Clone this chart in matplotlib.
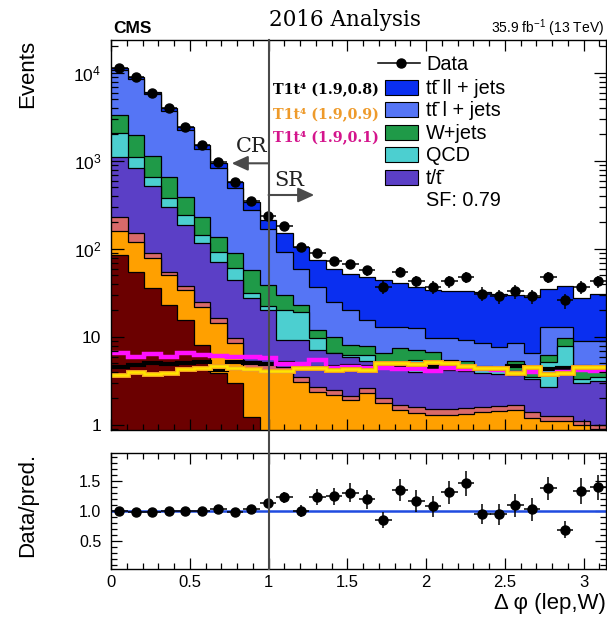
import numpy as np
import matplotlib
matplotlib.use("Agg")
import matplotlib.pyplot as plt
from matplotlib.lines import Line2D
from matplotlib.patches import Rectangle
from matplotlib.ticker import (FixedLocator, FixedFormatter, MultipleLocator,
                               FuncFormatter, LogLocator, NullFormatter)

plt.rcParams["font.family"] = ["Liberation Sans", "DejaVu Sans"]
plt.rcParams["mathtext.fontset"] = "custom"
plt.rcParams["mathtext.rm"] = "Liberation Sans"
plt.rcParams["mathtext.it"] = "Liberation Sans:italic"
plt.rcParams["mathtext.bf"] = "Liberation Sans:bold"

# ---------------------------------------------------------------- data
n_bins = 30
edges = np.linspace(0.0, np.pi, n_bins + 1)

data_counts = [11500, 8920, 5950, 3970, 2450, 1520, 970, 570, 355, 240,
               183, 104, 91, 73, 67, 57, 37, 55, 43, 37,
               43, 48, 31, 29, 33, 29, 48, 26, 37, 43]

# stacked backgrounds, bottom to top
minor_maroon = [85, 55, 36, 23, 15.6, 8.1, 3.9, 3.0, 1.24, 0,
                0, 0, 0, 0, 0, 0, 0, 0, 0, 0,
                0, 0, 0, 0, 0, 0, 0, 0, 0, 0]
minor_orange = [75, 66, 42, 27, 18.4, 13.9, 10.4, 5.5, 3.26, 4.2,
                4.0, 3.1, 2.4, 2.2, 1.92, 2.3, 1.76, 1.48, 1.38, 1.3,
                1.3, 1.35, 1.4, 1.45, 1.48, 1.2, 1.1, 1.1, 1.0, 0.9]
minor_salmon = [73, 30, 13, 5, 4, 3, 2.2, 1.3, 0.8, 0.8,
                0.6, 0.4, 0.3, 0.3, 0.23, 0.3, 0.24, 0.22, 0.22, 0.2,
                0.2, 0.2, 0.2, 0.2, 0.22, 0.2, 0.15, 0.15, 0.1, 0.1]
single_top = [887, 689, 429, 247, 149, 91, 55.5, 34.2, 22.2, 15.1,
              4.6, 5.7, 4.4, 4.0, 3.85, 2.7, 2.9, 2.9, 2.4, 3.1,
              2.7, 2.55, 2.3, 2.15, 2.0, 1.9, 1.45, 3.35, 1.9, 2.2]
qcd = [945, 280, 140, 78, 56, 28, 20, 17, 3.9, 2.6,
       11.1, 10.2, 2.6, 0.1, 0.3, 0.9, 0.3, 0.65, 1.5, 0.4,
       0.8, 0.7, 0.4, 0.4, 0.4, 0.2, 2.55, 3.2, 0.3, 0.3]
wjets = [1265, 855, 480, 275, 150, 89, 46, 29, 26.2, 16.5,
         9.7, 3.7, 2.3, 3.5, 1.8, 1.7, 1.3, 2.15, 1.6, 1.8,
         0.5, 0.6, 0.3, 0.3, 1.2, 0.9, 0.95, 1.9, 1.2, 1.0]
tt_1l = [7470, 6525, 4560, 2995, 1837, 1125, 688, 400, 218, 128,
         63, 36.9, 25.3, 15.1, 12.2, 7.7, 6.6, 5.7, 5.4, 2.9,
         4.2, 3.8, 3.9, 3.1, 3.2, 2.2, 6.7, 3.2, 4.5, 4.5]
tt_2l = [700, 600, 430, 320, 220, 162, 116, 92, 69, 47,
         57, 45, 36.7, 33.8, 31.2, 32.4, 30.9, 27.9, 24.5, 24.9,
         23.3, 23.8, 24.2, 23.3, 21.8, 21.8, 22.1, 25.1, 19, 22]

# signal shapes drawn as lines
sig_19_08 = [4.6, 4.8, 5.0, 4.95, 5.1, 5.25, 4.2, 5.25, 5.0, 4.95,
             5.0, 4.8, 4.5, 4.6, 4.7, 4.6, 4.9, 4.6, 4.7, 4.6,
             4.5, 4.6, 4.4, 4.3, 4.7, 4.5, 4.3, 4.4, 4.6, 4.5]
sig_19_09 = [3.7, 4.0, 3.8, 3.9, 4.35, 4.5, 4.7, 4.4, 4.35, 4.1,
             4.1, 4.4, 4.5, 4.2, 4.3, 4.2, 5.1, 5.0, 4.9, 5.25,
             5.1, 4.7, 4.5, 4.5, 3.9, 4.6, 3.75, 3.9, 4.6, 4.6]
sig_19_01 = [6.5, 6.0, 6.4, 6.0, 6.6, 6.2, 6.1, 6.0, 5.9, 5.7,
             4.9, 4.95, 5.5, 4.4, 4.6, 4.4, 4.5, 4.35, 4.3, 4.1,
             4.4, 4.3, 4.3, 4.2, 3.9, 4.0, 3.8, 4.0, 4.2, 4.1]

stack_components = [minor_maroon, minor_orange, minor_salmon, single_top,
                    qcd, wjets, tt_1l, tt_2l]
stack_colors = ["#6b0000", "#ffa000", "#d96a6a", "#5b3fc6",
                "#4ccfd0", "#1f9a48", "#5575f5", "#0a2ff0"]

legend_labels = ["tt\u0304 ll + jets", "tt\u0304 l + jets",
                 "W+jets", "QCD", "t/t\u0304"]
legend_colors = ["#0a2ff0", "#5575f5", "#1f9a48", "#4ccfd0", "#5b3fc6"]
scale_factor = 0.79

# ---------------------------------------------------------------- layout
W, H = 607, 623
fig = plt.figure(figsize=(W / 100, H / 100), dpi=100)


def fx(px):
    return px / W


def fy(py):
    return 1 - py / H


x_left, x_right = 111, 606
ax = fig.add_axes([fx(x_left), fy(430), fx(x_right) - fx(x_left), fy(40) - fy(430)])
axr = fig.add_axes([fx(x_left), fy(569.3), fx(x_right) - fx(x_left), fy(452.7) - fy(569.3)])

centers = 0.5 * (edges[:-1] + edges[1:])
half_w = 0.5 * np.diff(edges)
data = np.array(data_counts, float)

# ---------------------------------------------------------------- stack
cum = np.cumsum(np.array(stack_components, float), axis=0)
floor = 1e-3
for i in reversed(range(len(stack_components))):
    top = np.maximum(cum[i], floor)
    ax.stairs(top, edges, baseline=floor, fill=True, color=stack_colors[i], lw=0)
    ax.stairs(top, edges, baseline=None, color="black", lw=0.9)

# signal lines
ax.stairs(sig_19_08, edges, baseline=None, color="black", lw=3.0)
ax.stairs(sig_19_01, edges, baseline=None, color="#ff10ff", lw=3.2)
ax.stairs(sig_19_09, edges, baseline=None, color="#f0a020", lw=3.6)
ax.stairs(sig_19_09, edges, baseline=None, color="#ffe400", lw=1.8)

# data
ax.errorbar(centers, data, xerr=half_w, yerr=np.sqrt(data), fmt="o", color="black",
            ms=6.5, elinewidth=1.1, capsize=0, zorder=10)

ax.set_xlim(0, np.pi)
ax.set_yscale("log")
ax.set_ylim(0.877, 23700)

ax.xaxis.set_major_locator(MultipleLocator(0.5))
ax.xaxis.set_minor_locator(MultipleLocator(0.1))
ax.yaxis.set_major_locator(FixedLocator([1, 10, 100, 1000, 10000]))
ax.yaxis.set_major_formatter(FixedFormatter(["1", "10", r"$10^{2}$", r"$10^{3}$", r"$10^{4}$"]))
ax.yaxis.set_minor_locator(LogLocator(base=10, subs=np.arange(2, 10)))
ax.yaxis.set_minor_formatter(NullFormatter())
ax.tick_params(axis="both", which="both", direction="in", top=True, right=True)
ax.tick_params(axis="x", which="major", length=8, width=0.9, labelbottom=False)
ax.tick_params(axis="x", which="minor", length=4, width=0.9)
ax.tick_params(axis="y", which="major", length=9, width=0.9, labelsize=12.5, pad=7)
ax.tick_params(axis="y", which="minor", length=5, width=0.9)
ax.set_ylabel("Events", fontsize=16, loc="top")
ax.yaxis.set_label_coords((38 - x_left) / (x_right - x_left), 1.0)

# ---------------------------------------------------------------- ratio
total = cum[-1]
ratio = data / total
ratio_err = np.sqrt(data) / total
axr.axhline(1.0, color="#1f4be0", lw=1.8)
axr.errorbar(centers, ratio, xerr=half_w, yerr=ratio_err, fmt="o", color="black",
             ms=6.5, elinewidth=1.1, capsize=0, zorder=10)
axr.set_xlim(0, np.pi)
axr.set_ylim(0.02, 1.967)
axr.xaxis.set_major_locator(MultipleLocator(0.5))
axr.xaxis.set_minor_locator(MultipleLocator(0.1))
axr.xaxis.set_major_formatter(FuncFormatter(lambda v, p: f"{v:g}"))
axr.yaxis.set_major_locator(FixedLocator([0.5, 1.0, 1.5]))
axr.yaxis.set_major_formatter(FuncFormatter(lambda v, p: f"{v:.1f}"))
axr.yaxis.set_minor_locator(MultipleLocator(0.1))
axr.tick_params(axis="both", which="both", direction="in", top=True, right=True)
axr.tick_params(axis="x", which="major", length=8, width=0.9, labelsize=12, pad=4)
axr.tick_params(axis="x", which="minor", length=4, width=0.9)
axr.tick_params(axis="y", which="major", length=8, width=0.9, labelsize=11.5, pad=7)
axr.tick_params(axis="y", which="minor", length=4, width=0.9)
axr.set_ylabel("Data/pred.", fontsize=16, loc="top")
axr.yaxis.set_label_coords((38 - x_left) / (x_right - x_left), 1.0)
axr.set_xlabel(r"Δ φ (lep,W)", fontsize=16, loc="right")
axr.xaxis.set_label_coords(1.0, -0.2)

for a in (ax, axr):
    for s in a.spines.values():
        s.set_linewidth(1.0)

# ---------------------------------------------------------------- CR / SR divider
x_div = fx(x_left) + (1.0 / np.pi) * (fx(x_right) - fx(x_left))
fig.add_artist(Line2D([x_div, x_div], [fy(569.3), fy(40)], transform=fig.transFigure,
                      color="#4a4a4a", lw=1.5, zorder=20))


def yfrac(py):
    return (430 - py) / 390


arrow_kw = dict(arrowstyle="-|>,head_length=0.7,head_width=0.32", color="#4a4a4a",
                lw=1.5, mutation_scale=14, shrinkA=0, shrinkB=0)
ax.annotate("", xy=(0.766, yfrac(163.3)), xytext=(1.0, yfrac(163.3)),
            xycoords=("data", "axes fraction"), textcoords=("data", "axes fraction"),
            arrowprops=arrow_kw)
ax.annotate("", xy=(1.29, yfrac(195)), xytext=(1.0, yfrac(195)),
            xycoords=("data", "axes fraction"), textcoords=("data", "axes fraction"),
            arrowprops=arrow_kw)
serif = ["DejaVu Serif", "DejaVu Sans"]
ax.text(0.89, yfrac(147), "CR", family=serif, fontsize=15, ha="center", va="center",
        transform=ax.get_xaxis_transform(), color="#222222")
ax.text(1.13, yfrac(181), "SR", family=serif, fontsize=15, ha="center", va="center",
        transform=ax.get_xaxis_transform(), color="#222222")

# signal labels
sig_labels = [("T1t⁴ (1.9,0.8)", "black", 90),
              ("T1t⁴ (1.9,0.9)", "#ee9a2a", 115),
              ("T1t⁴ (1.9,0.1)", "#d4148c", 138.5)]
for txt, col, py in sig_labels:
    ax.text((273 - x_left) / (x_right - x_left), yfrac(py), txt, family=serif,
            fontsize=10.3, fontweight="bold", color=col, ha="left", va="center",
            transform=ax.transAxes)

# ---------------------------------------------------------------- legend
def xfrac(px):
    return (px - x_left) / (x_right - x_left)


leg_fs = 14.3
sans = ["Liberation Sans", "DejaVu Sans"]
ax.add_line(Line2D([xfrac(378), xfrac(420)], [yfrac(63), yfrac(63)], color="black",
                   lw=1.1, transform=ax.transAxes))
ax.add_line(Line2D([xfrac(401)], [yfrac(63)], marker="o", ms=6.5, color="black",
                   transform=ax.transAxes))
ax.text(xfrac(426), yfrac(69.5), "Data", fontsize=leg_fs, ha="left", va="baseline",
        transform=ax.transAxes)
for i, (lab, col) in enumerate(zip(legend_labels, legend_colors)):
    cy = 87 + 22.6 * i
    ax.add_patch(Rectangle((xfrac(385), yfrac(cy + 7.5)), xfrac(418) - xfrac(385), 15 / 390,
                           facecolor=col, edgecolor="black", lw=0.8, transform=ax.transAxes))
    ax.text(xfrac(426), yfrac(cy + 6.5), lab, family=sans, fontsize=leg_fs, ha="left",
            va="baseline", transform=ax.transAxes)
ax.text(xfrac(426), yfrac(206.5), f"SF: {scale_factor:.2f}", fontsize=leg_fs, ha="left",
        va="baseline", transform=ax.transAxes)

# ---------------------------------------------------------------- header
fig.text(fx(113), fy(33), "CMS", fontsize=12.5, fontweight="bold", ha="left", va="baseline")
fig.text(fx(345), fy(26), "2016 Analysis", family=serif, fontsize=15.5, ha="center",
         va="baseline")
fig.text(fx(604), fy(33), r"35.9 fb$^{-1}$ (13 TeV)", fontsize=10, ha="right", va="baseline")

fig.savefig("out.png", dpi=100)
